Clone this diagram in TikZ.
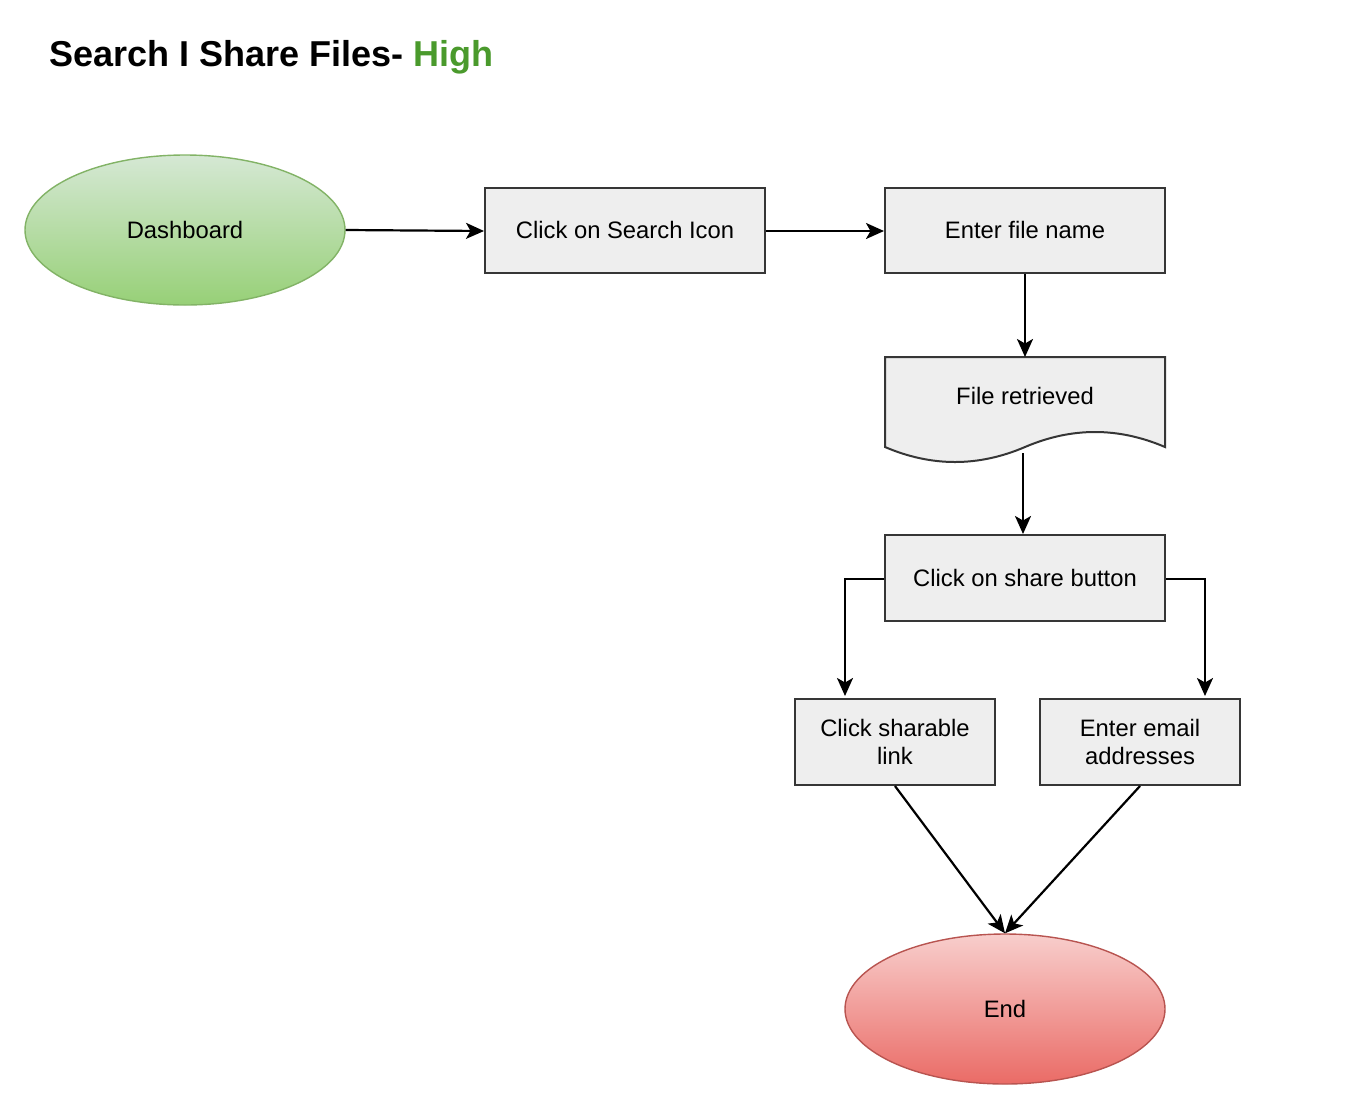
\documentclass[tikz,border=0pt]{standalone}
\usepackage{fontspec}
\setmainfont{Liberation Sans}
\usetikzlibrary{shapes.geometric,arrows.meta}
\definecolor{boxfill}{HTML}{EEEEEE}
\definecolor{boxline}{HTML}{363636}
\definecolor{gtop}{HTML}{D5E8D4}
\definecolor{gbot}{HTML}{97D077}
\definecolor{gline}{HTML}{82B366}
\definecolor{rtop}{HTML}{F8CECC}
\definecolor{rbot}{HTML}{EA6B66}
\definecolor{rline}{HTML}{B85450}
\definecolor{hgreen}{HTML}{4A9A2C}
\tikzset{
  lbl/.style={font=\fontsize{23.8}{28}\selectfont, align=center, text=black},
  stepbox/.style={lbl, rectangle, draw=boxline, fill=boxfill, line width=2pt, inner sep=0pt},
  oval/.style={lbl, ellipse, minimum width=320pt, minimum height=150pt, inner sep=0pt, line width=1.4pt},
  conn/.style={line width=2.2pt, -{Stealth[length=18pt,width=16pt,inset=4.5pt]}},
}
\begin{document}
\begin{tikzpicture}[x=1pt,y=-1pt]
\useasboundingbox (0,0) rectangle (1346,1112);
% title
\node[anchor=base west, inner sep=0pt, font=\fontsize{36}{40}\selectfont\bfseries] (title) at (49,66) {Search I Share Files- \textcolor{hgreen}{High}};
% nodes
\node[oval, draw=gline, top color=gtop, bottom color=gbot] (dash) at (185,230) {Dashboard};
\node[stepbox, minimum width=280pt, minimum height=85pt] (search) at (625,230) {Click on Search Icon};
\node[stepbox, minimum width=280pt, minimum height=85pt] (enter) at (1025,230) {Enter file name};
% document shape
\draw[draw=boxline, fill=boxfill, line width=2pt]
  (885,357) -- (1165,357) -- (1165,447)
  .. controls (1118.3,427) and (1071.7,427) .. (1025,447)
  .. controls (978.3,467) and (931.7,467) .. (885,447) -- cycle;
\node[lbl, minimum width=280pt, minimum height=78pt, inner sep=0pt] (fr) at (1025,396) {File retrieved};
\coordinate (frin) at (1025,357);
\coordinate (frout) at (1023,453);
\node[stepbox, minimum width=280pt, minimum height=86pt] (share) at (1025,578) {Click on share button};
\node[stepbox, minimum width=200pt, minimum height=86pt] (link) at (895,742) {Click sharable\\link};
\node[stepbox, minimum width=200pt, minimum height=86pt] (email) at (1140,742) {Enter email\\addresses};
\node[oval, draw=rline, top color=rtop, bottom color=rbot] (end) at (1005,1009) {End};
% connectors
\draw[conn] (dash.east) -- (search.west |- 0,231);
\draw[conn] (search.east |- 0,231) -- (enter.west |- 0,231);
\draw[conn] (enter.south) -- (frin);
\draw[conn] (frout) -- (frout |- share.north);
\draw[conn] (share.west |- 0,579) -| (845,696);
\draw[conn] (share.east |- 0,579) -| (1205,696);
\draw[conn] (link.south) -- (end.north);
\draw[conn] (email.south) -- (end.north);
\end{tikzpicture}
\end{document}
